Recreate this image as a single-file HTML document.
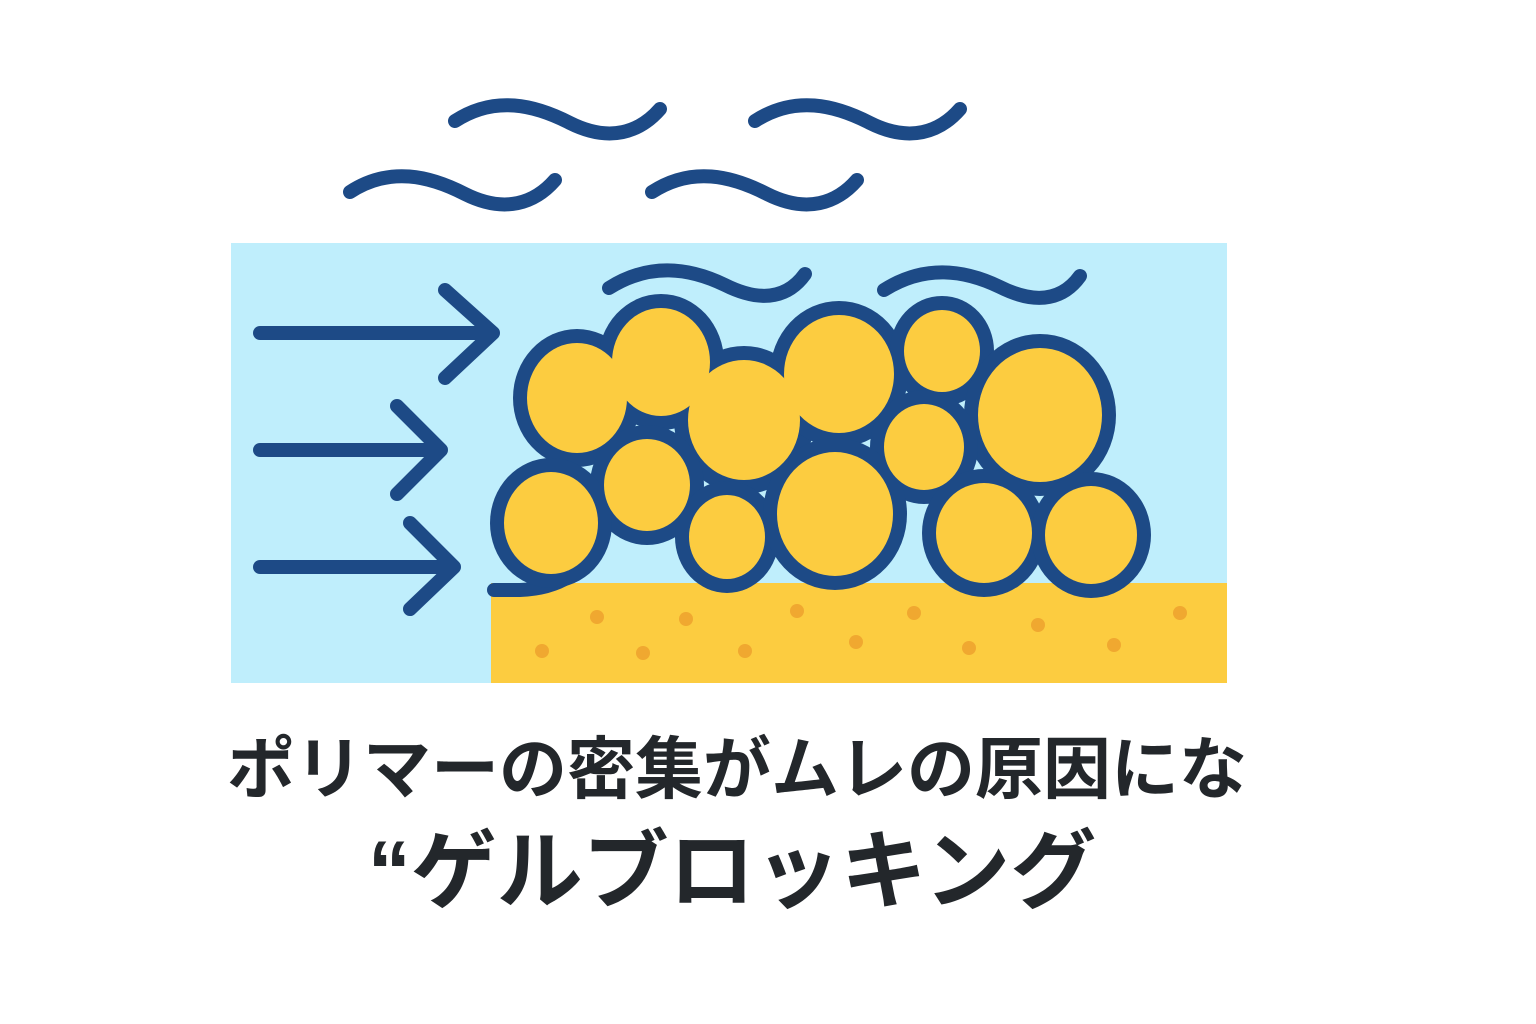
<!DOCTYPE html>
<html><head><meta charset="utf-8"><style>
html,body{margin:0;padding:0;background:#fff;}
body{width:1536px;height:1024px;position:relative;overflow:hidden;}
.t{position:absolute;width:1536px;text-align:center;font-family:"Liberation Sans","Noto Sans CJK JP",sans-serif;font-weight:bold;color:#23272b;white-space:nowrap;}
</style></head><body>
<svg width="1536" height="1024" style="position:absolute;left:0;top:0">
<rect x="231" y="243" width="996" height="440" fill="#bfeefc"/>
<rect x="491" y="583" width="736" height="100" fill="#fccc40"/>
<g fill="#f0a830">
<circle cx="597" cy="617" r="7"/><circle cx="686" cy="619" r="7"/><circle cx="797" cy="611" r="7"/><circle cx="914" cy="613" r="7"/><circle cx="1038" cy="625" r="7"/><circle cx="1180" cy="613" r="7"/>
<circle cx="542" cy="651" r="7"/><circle cx="643" cy="653" r="7"/><circle cx="745" cy="651" r="7"/><circle cx="856" cy="642" r="7"/><circle cx="969" cy="648" r="7"/><circle cx="1114" cy="645" r="7"/>
</g>
<g fill="none" stroke="#1d4a86" stroke-width="14" stroke-linecap="round" stroke-linejoin="round">
<path d="M455,121 C495,95 535,105 570,123 C610,143 640,132 660,109"/>
<path d="M755,121 C795,95 835,105 870,123 C910,143 940,132 960,109"/>
<path d="M350,192 C390,166 430,176 465,194 C505,214 535,203 555,180"/>
<path d="M652,192 C692,166 732,176 767,194 C807,214 837,203 857,180"/>
<path d="M609,288 C650,262 690,268 725,285 C765,305 790,295 805,274"/>
<path d="M884,290 C925,264 965,270 1000,287 C1040,307 1065,297 1080,276"/>
<path d="M260,333 L493,333 M445,290 L493,333 L445,378"/>
<path d="M260,450 L441,450 M397,406 L441,450 L397,494"/>
<path d="M260,567 L454,567 M410,523 L454,567 L410,609"/>
<path d="M494,590 L520,590 Q578,588 600,540"/>
</g>
<g fill="#1d4a86">
<ellipse cx="577" cy="398" rx="64" ry="69"/>
<ellipse cx="661" cy="362" rx="63" ry="68"/>
<ellipse cx="744" cy="420" rx="70" ry="74"/>
<ellipse cx="839" cy="374" rx="69" ry="73"/>
<ellipse cx="942" cy="351" rx="52" ry="55"/>
<ellipse cx="1040" cy="415" rx="76" ry="81"/>
<ellipse cx="924" cy="447" rx="54" ry="57"/>
<ellipse cx="647" cy="485" rx="57" ry="60"/>
<ellipse cx="551" cy="523" rx="61" ry="65"/>
<ellipse cx="727" cy="537" rx="52" ry="56"/>
<ellipse cx="835" cy="514" rx="72" ry="76"/>
<ellipse cx="984" cy="533" rx="62" ry="64"/>
<ellipse cx="1091" cy="535" rx="60" ry="63"/>
</g>
<g fill="#fccc40">
<ellipse cx="577" cy="398" rx="50" ry="55"/>
<ellipse cx="661" cy="362" rx="49" ry="54"/>
<ellipse cx="744" cy="420" rx="56" ry="60"/>
<ellipse cx="839" cy="374" rx="55" ry="59"/>
<ellipse cx="942" cy="351" rx="38" ry="41"/>
<ellipse cx="1040" cy="415" rx="62" ry="67"/>
<ellipse cx="924" cy="447" rx="40" ry="43"/>
<ellipse cx="647" cy="485" rx="43" ry="46"/>
<ellipse cx="551" cy="523" rx="47" ry="51"/>
<ellipse cx="727" cy="537" rx="38" ry="42"/>
<ellipse cx="835" cy="514" rx="58" ry="62"/>
<ellipse cx="984" cy="533" rx="48" ry="50"/>
<ellipse cx="1091" cy="535" rx="46" ry="49"/>
</g>
</svg>
<div class="t" style="left:-31px;top:726px;font-size:68px;line-height:88px;">ポリマーの密集がムレの原因にな</div>
<div class="t" style="left:-36px;top:822px;font-size:86px;line-height:100px;">“ゲルブロッキング</div>
</body></html>
